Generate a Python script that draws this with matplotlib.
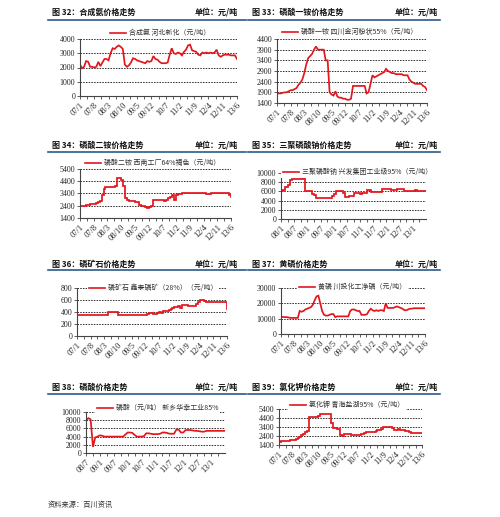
import matplotlib
matplotlib.use("Agg")
import matplotlib.pyplot as plt
from matplotlib.lines import Line2D
from matplotlib.ticker import FixedLocator

# ---------------- data ----------------
ticks_0701 = ["07/1", "07/8", "08/3", "08/10", "09/5", "09/12", "10/7",
              "11/2", "11/9", "12/4", "12/11", "13/6"]
ticks_0801 = ["08/1", "08/7", "09/1", "09/7", "10/1", "10/7", "11/1",
              "11/7", "12/1", "12/7", "13/1"]
ticks_0807 = ["08/7", "09/1", "09/7", "10/1", "10/7", "11/1", "11/7",
              "12/1", "12/7", "13/1"]

# monthly values, 2007/1 .. 2013/6
ammonia = [2200, 1950, 2050, 2450, 2400, 2050, 2050, 2000, 2050, 2400,
           2100, 2350, 2600, 2600, 2500, 3000, 3350, 3300, 3450, 3550,
           3450, 3300, 2200, 2050, 2150, 2350, 2650, 2600, 2500, 2450,
           2400, 2350, 2300, 2450, 2400, 2450, 2800, 2600, 2550, 2400,
           2300, 2300, 2300, 2350, 2900, 3350, 3000, 2950, 3050, 3000,
           2850, 3100, 3250, 3550, 3600, 3200, 3150, 3100, 2900, 2850,
           3050, 3000, 3050, 3000, 3050, 3000, 3050, 3250, 2850, 2750,
           2850, 2900, 2900, 2900, 2850, 2850, 2850, 2600]

map_price = [1850, 1850, 1850, 1880, 1900, 1900, 1950, 2000, 2000, 2050,
             2100, 2250, 2350, 2500, 2800, 3200, 3500, 3600, 3700, 3900,
             4050, 3900, 3900, 3900, 3900, 3400, 3400, 1900, 1800, 1750,
             1950, 1700, 1650, 1650, 1600, 1600, 1550, 1550, 1600, 2200,
             2200, 2200, 2200, 2200, 2200, 2200, 1850, 1900, 2300, 2700,
             2600, 2650, 2700, 2750, 2800, 2850, 3000, 2900, 2850, 2800,
             2800, 2750, 2750, 2750, 2750, 2700, 2700, 2700, 2500, 2400,
             2350, 2300, 2300, 2300, 2300, 2200, 2150, 2000]

dap_price = [2400, 2400, 2400, 2500, 2500, 2550, 2550, 2550, 2600, 2700,
             2800, 3300, 3800, 3900, 3950, 3950, 3950, 3950, 4000, 4700,
             4700, 4500, 4000, 3000, 2900, 2800, 2800, 2800, 2700, 2700,
             2500, 2400, 2350, 2300, 2200, 2300, 2400, 2900, 2900, 2900,
             2900, 2900, 2900, 2750, 2850, 3000, 3100, 3300, 2850, 3300,
             3350, 3350, 3400, 3400, 3400, 3400, 3400, 3400, 3400, 3400,
             3400, 3400, 3400, 3400, 3380, 3380, 3380, 3400, 3400, 3400,
             3400, 3400, 3400, 3400, 3400, 3400, 3300, 3150]

# monthly, 2008/1 .. 2013/7
stpp_price = [6000, 6200, 7000, 7500, 8500, 8700, 8800, 8800, 8800, 8800,
              9000, 6000, 6000, 6000, 5400, 5300, 4600, 4600, 4600, 4600,
              4500, 4500, 4600, 5000, 5500, 6000, 6000, 6000, 5700, 4800,
              4800, 5000, 5000, 5700, 5700, 5700, 5500, 5700, 5700, 6200,
              6200, 5800, 5800, 5800, 5800, 5800, 6500, 6500, 6500, 6500,
              6400, 6400, 6400, 6500, 6500, 6500, 6000, 6000, 6000, 6000,
              6000, 6200, 6100, 6000, 6000, 6000, 6000]

rock_price = [350, 350, 350, 350, 350, 350, 350, 350, 350, 350,
              350, 350, 350, 350, 350, 350, 400, 400, 400, 400,
              400, 350, 350, 350, 350, 350, 350, 350, 350, 350,
              350, 350, 350, 350, 350, 350, 370, 390, 380, 360,
              360, 380, 400, 390, 420, 420, 420, 430, 450, 460,
              480, 490, 500, 470, 510, 510, 510, 500, 500, 500,
              500, 540, 560, 600, 600, 580, 575, 575, 575, 575,
              575, 575, 575, 575, 575, 575, 575, 450]

yellowp_price = [11000, 11200, 11000, 11000, 10800, 10500, 10500, 10500, 10500, 10500,
                 15000, 14500, 15000, 16000, 16500, 17000, 17500, 19000, 22000, 24500,
                 25000, 20000, 15000, 12500, 12000, 12000, 12500, 13000, 13000, 11000,
                 11500, 11500, 11500, 11500, 11500, 11500, 11500, 15000, 16000, 16000,
                 15500, 15000, 15000, 12500, 12500, 12500, 13000, 15000, 16500, 15500,
                 15000, 15500, 15000, 15500, 15500, 15000, 20000, 17000, 17000, 17000,
                 17000, 17500, 18000, 17500, 17000, 16500, 15500, 15500, 16000, 16500,
                 16500, 16800, 16800, 16800, 16800, 16800, 16800, 16800]

# monthly, 2008/7 .. 2013/7
phos_acid = [8000, 8500, 8200, 1500, 3800, 4000, 4300, 4200, 4000, 4000,
             4000, 4000, 4000, 4000, 4000, 4000, 4000, 4500, 5000, 5000,
             4900, 4400, 4000, 4000, 4000, 4100, 4800, 4800, 4700, 4600,
             4600, 4600, 4700, 5000, 5000, 4900, 4700, 4700, 4700, 5700,
             5700, 5000, 5000, 5600, 5600, 5600, 5500, 5400, 5400, 5300,
             5200, 5200, 5400, 5400, 5400, 5400, 5400, 5400, 5400, 5400,
             5400]

potash_price = [1700, 1800, 1800, 1800, 1900, 1900, 1950, 2000, 2000, 2100,
                2200, 2300, 2500, 2650, 2800, 3000, 4500, 4500, 4500, 4500,
                4500, 4600, 4800, 4800, 4800, 4800, 4800, 4800, 3800, 3300,
                3300, 3200, 3200, 2500, 2450, 2600, 2600, 2600, 2600, 2500,
                2500, 2500, 2500, 2500, 2600, 2650, 2700, 2800, 2850, 2900,
                2900, 2900, 3000, 3100, 3100, 3200, 3350, 3400, 3400, 3400,
                3350, 3300, 3100, 3100, 3150, 3100, 3100, 3050, 3000, 3000,
                2900, 2750, 2700, 2700, 2700, 2700, 2700, 2700]

# ---------------- figure ----------------
W, H = 500, 517
fig = plt.figure(figsize=(W / 100, H / 100), dpi=100)
fig.patch.set_facecolor("white")

CJK = ["Noto Sans CJK SC", "DejaVu Sans"]
SERIF = ["Liberation Serif", "DejaVu Serif"]
RED = "#e3161c"
BLUE = "#2b5a8a"


def fx(x):
    return x / W


def fy(y):
    return 1 - y / H


def header(x0, x1, ytext, yline, title, unit_x):
    fig.text(fx(x0 + 4), fy(ytext), title, family=CJK, weight="bold",
             fontsize=5.8, va="center", ha="left", color="#111111")
    fig.text(fx(unit_x), fy(ytext), "单位：元/吨", family=CJK, weight="bold",
             fontsize=5.8, va="center", ha="left", color="#111111")
    fig.add_artist(Line2D([fx(x0), fx(x1)], [fy(yline), fy(yline)],
                          color=BLUE, lw=1.2, transform=fig.transFigure))


def panel(box, values, yticks, xlabels, xstep, xmax, label, leg_xy,
          steps=False):
    l, t, r, b = box
    ax = fig.add_axes([fx(l), fy(b), (r - l) / W, (b - t) / H])
    xs = list(range(len(values)))
    ax.plot(xs, values, color=RED, lw=1.25,
            drawstyle="steps-post" if steps else "default",
            solid_joinstyle="miter")
    ax.set_xlim(0, xmax)
    ax.set_ylim(yticks[0], yticks[-1])
    ax.set_yticks(yticks)
    ax.set_yticklabels([str(v) for v in yticks], family=SERIF, fontsize=5.7,
                       color="#222222")
    xt = [i * xstep for i in range(len(xlabels))]
    ax.set_xticks(xt)
    ax.set_xticklabels(xlabels, family=SERIF, fontsize=6, rotation=45,
                       ha="right", rotation_mode="anchor", color="#222222")
    ax.xaxis.set_minor_locator(FixedLocator(
        [v + xstep / 2 for v in xt if v + xstep / 2 <= xmax]))
    for s in ("top", "right"):
        ax.spines[s].set_visible(False)
    for s in ("left", "bottom"):
        ax.spines[s].set_color("#444444")
        ax.spines[s].set_linewidth(0.8)
    ax.tick_params(axis="both", which="both", length=2, width=0.6,
                   color="#444444", pad=1.5)
    ax.tick_params(axis="x", which="major", pad=1.5)
    ax.yaxis.grid(True, color="#333333", lw=0.7, linestyle=(0, (1.6, 1.2)))
    ax.set_axisbelow(True)
    ax.set_facecolor("white")
    h = [Line2D([], [], color=RED, lw=1.2)]
    lx, ly = leg_xy
    leg = ax.legend(h, [label], loc="center left",
                    bbox_to_anchor=(fx(lx - 2), fy(ly)),
                    bbox_transform=fig.transFigure, borderaxespad=0,
                    borderpad=0.3, handlelength=2.3, handletextpad=0.4,
                    frameon=True, fancybox=False, facecolor="white",
                    edgecolor="none", framealpha=1,
                    prop={"family": CJK, "size": 5})
    for tx in leg.get_texts():
        tx.set_color("#333333")
    return ax


# headers
header(48, 246, 12.5, 19.5, "图 32：合成氨价格走势", 195)
header(248, 440, 12.5, 19.5, "图 33：磷酸一铵价格走势", 395)
header(48, 246, 145, 152, "图 34：磷酸二铵价格走势", 195)
header(248, 440, 145, 152, "图 35：三聚磷酸钠价格走势", 395)
header(48, 246, 264, 269.5, "图 36：磷矿石价格走势", 195)
header(248, 440, 264, 269.5, "图 37：黄磷价格走势", 395)
header(48, 246, 387, 393.5, "图 38：磷酸价格走势", 195)
header(248, 440, 387, 393.5, "图 39：氯化钾价格走势", 395)

panel((80, 39, 237, 96), ammonia, [0, 1000, 2000, 3000, 4000],
      ticks_0701, 7, 77, "合成氨 河北新化（元/吨）", (110, 33))
panel((277, 39, 427, 103), map_price,
      [1400, 1900, 2400, 2900, 3400, 3900, 4400],
      ticks_0701, 7, 77, "磷酸一铵 四川金河粉状55%（元/吨）", (282, 32))
panel((80, 169, 231, 218), dap_price, [1400, 2400, 3400, 4400, 5400],
      ticks_0701, 7, 77, "磷酸二铵 西南工厂64%褐色（元/吨）", (85, 163),
      steps=True)
panel((281, 173, 426, 219), stpp_price, [0, 2000, 4000, 6000, 8000, 10000],
      ticks_0801, 6, 66, "三聚磷酸钠 兴发集团工业级95%（元/吨）", (283, 172),
      steps=True)
panel((77, 288, 227, 336), rock_price, [0, 200, 400, 600, 800],
      ticks_0701, 7, 77, "磷矿石 鑫泰磷矿（28%）（元/吨）", (89, 288),
      steps=True)
panel((281, 288, 425, 334), yellowp_price, [0, 10000, 20000, 30000],
      ticks_0701, 7, 77, "黄磷 川投化工净磷（元/吨）", (299, 287))
panel((86, 412, 225, 453), phos_acid, [0, 2000, 4000, 6000, 8000, 10000],
      ticks_0807, 6, 60, "磷酸（元/吨） 新乡华幸工业85%", (97, 408))
panel((279, 409, 422, 445), potash_price, [1400, 2400, 3400, 4400, 5400],
      ticks_0701, 7, 77, "氯化钾 青海盐湖95%（元/吨）", (290, 405),
      steps=True)

fig.text(fx(48), fy(505), "资料来源：百川资讯", family=CJK, fontsize=5.2,
         style="italic", color="#333333", va="center", ha="left")

fig.savefig("out.png", dpi=100, facecolor="white")
